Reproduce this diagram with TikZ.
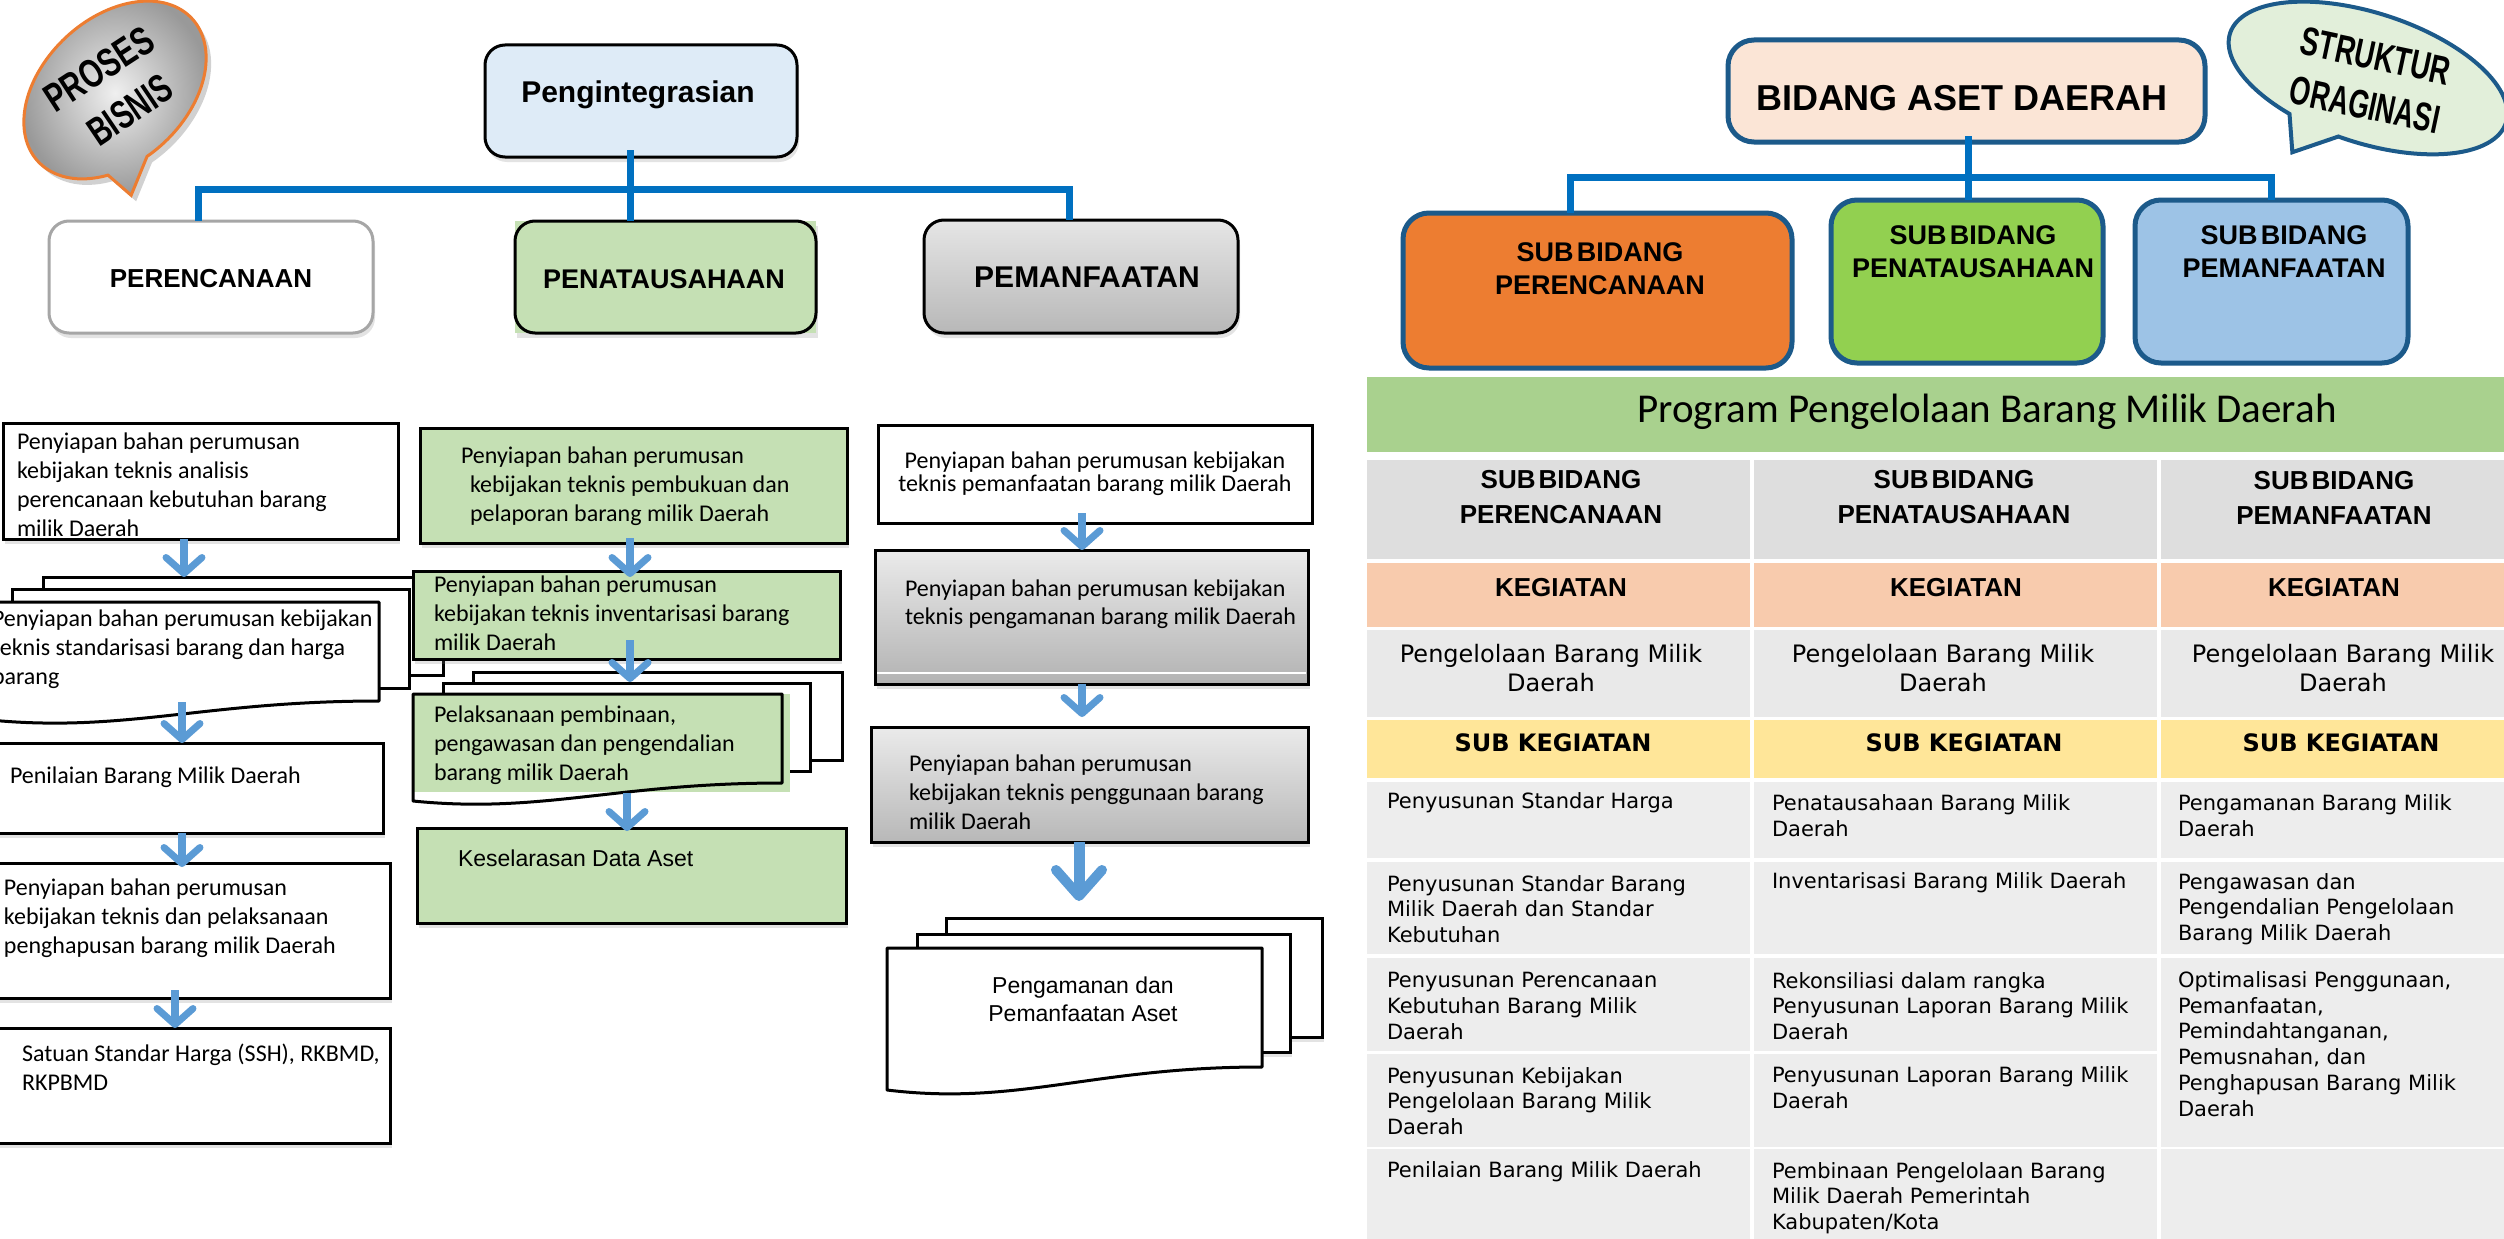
\documentclass[tikz,border=0pt]{standalone}
\usepackage{fontspec}
\setmainfont{Carlito}
\newfontfamily\arialf{Liberation Sans}
\newfontfamily\verdf{DejaVu Sans}
\usetikzlibrary{arrows.meta,shadows,calc}
\newcommand\fsz[2]{\fontsize{#1}{#2}\selectfont}

\definecolor{flowblue}{HTML}{5B9BD5}
\definecolor{busblue}{HTML}{0070C0}
\definecolor{frameblue}{HTML}{1C5A8A}
\definecolor{leafgreen}{HTML}{C5E0B4}
\definecolor{iceblue}{HTML}{DEEBF7}
\definecolor{orangefill}{HTML}{ED7D31}
\definecolor{limefill}{HTML}{92D050}
\definecolor{skyfill}{HTML}{9DC3E6}
\definecolor{peachtop}{HTML}{FBE5D6}
\definecolor{mintfill}{HTML}{E2EFDA}
\definecolor{bandgreen}{HTML}{A9D18E}
\definecolor{hdrgray}{HTML}{DEDEDE}
\definecolor{kegpeach}{HTML}{F8CBAD}
\definecolor{rowgray}{HTML}{E9E9E9}
\definecolor{subyellow}{HTML}{FFE699}
\definecolor{cellgray}{HTML}{EDEDED}
\definecolor{softgray}{HTML}{A6A6A6}
\definecolor{bubbleorange}{HTML}{ED7D31}

\begin{document}
\begin{tikzpicture}[x=1pt,y=-1pt,
  every node/.style={inner sep=0pt,outer sep=0pt},
  plainbox/.style={draw=black,line width=3pt,fill=white,anchor=north west},
  softshadow/.style={drop shadow={shadow xshift=2pt,shadow yshift=-5pt,opacity=0.22}},
  docline/.style={draw=black,line width=3pt,line join=round},
  flow/.style={draw=flowblue,line width=8pt,-{Straight Barb[length=16pt,width=36pt,line width=7pt,round]}},
  bigflow/.style={draw=flowblue,line width=11pt,-{Straight Barb[length=26pt,width=46pt,line width=10pt,round]}},
  bus/.style={draw=busblue,line width=7pt},
  orgbox/.style={draw=frameblue,line width=5pt,rounded corners=26pt,anchor=north west},
  cell/.style={anchor=north west},
  lefttext/.style={anchor=west,align=left},
  calib/.style={font=\fsz{24}{29}},
  titlefont/.style={font=\arialf\bfseries\fsz{#1}{#1}},
  bodycell/.style={anchor=west,align=left,font=\verdf\fsz{21}{25.7}},
]
\fill[white] (0,0) rectangle (2504,1239);
\useasboundingbox (0,0) rectangle (2504,1239);

% ---------------- speech bubble: PROSES BISNIS ----------------
\begin{scope}[shift={(120,96)},rotate=43]
  \fill[black,opacity=0.18] (127:105 and 72) arc[start angle=127,end angle=462,x radius=105,y radius=72] -- (-60,88) -- cycle;
\end{scope}
\begin{scope}[shift={(115,90)},rotate=43]
  \draw[bubbleorange,line width=3pt,inner color=black!6,outer color=black!40]
    (127:105 and 72) arc[start angle=127,end angle=462,x radius=105,y radius=72] -- (-60,88) -- cycle;
\end{scope}
\node[rotate=33,titlefont=40] (tproses) at (99,69) {\scalebox{0.73}[1]{PROSES}};
\node[rotate=34,titlefont=40] (tbisnis) at (130,110) {\scalebox{0.70}[1]{BISNIS}};

% ---------------- process hierarchy (left) ----------------
\node[plainbox,rounded corners=20pt,fill=iceblue,softshadow,minimum width=312pt,minimum height=112pt] (integ) at (485,45) {};
\node[titlefont=30] (tinteg) at (638,95) {Pengintegrasian};

\node[plainbox,draw=softgray,rounded corners=20pt,softshadow,minimum width=324pt,minimum height=112pt] (perenc) at (49,221) {};
\node[titlefont=26] (tperenc) at (211,279) {PERENCANAAN};

\fill[leafgreen,softshadow] (515,221) rectangle (816,333);
\node[plainbox,fill=none,rounded corners=20pt,minimum width=301pt,minimum height=112pt] (penata) at (515,221) {};
\node[titlefont=27] (tpenata) at (664,279) {PENATAUSAHAAN};

\node[plainbox,rounded corners=20pt,top color=black!10,bottom color=black!28,softshadow,minimum width=314pt,minimum height=113pt] (pemanf) at (924,220) {};
\node[titlefont=30] (tpemanf) at (1087,277) {PEMANFAATAN};

\coordinate (hubL) at (630,189);
\draw[bus] (630,150) -- (hubL |- penata.north);
\draw[bus] ([xshift=-13pt]perenc.north) |- (hubL) -| ([xshift=-12pt]pemanf.north);

% ---------------- organisation chart (right) ----------------
\coordinate (hubR) at (1968,177);
\node[orgbox,fill=peachtop,minimum width=477pt,minimum height=102pt] (bidang) at (1728,40) {};
\node[titlefont=36] (tbidang) at (1962,98) {BIDANG ASET DAERAH};

\node[orgbox,fill=orangefill,minimum width=389pt,minimum height=155pt] (sbperenc) at (1403,213) {};
\node[align=center,font=\arialf\bfseries\fsz{27}{33}] (tsbperenc) at (1600,268.5) {SUB\hspace{0.12em}BIDANG\\PERENCANAAN};
\node[orgbox,fill=limefill,minimum width=272pt,minimum height=163pt] (sbpenata) at (1831,200) {};
\node[align=center,font=\arialf\bfseries\fsz{27}{33}] (tsbpenata) at (1973,251.5) {SUB\hspace{0.12em}BIDANG\\PENATAUSAHAAN};
\node[orgbox,fill=skyfill,minimum width=273pt,minimum height=163pt] (sbpeman) at (2135,200) {};
\node[align=center,font=\arialf\bfseries\fsz{27}{33}] (tsbpeman) at (2284,251.5) {SUB\hspace{0.12em}BIDANG\\PEMANFAATAN};

\draw[bus] (hubR |- bidang.south) ++(0,-6) -- (hubR |- sbpenata.north);
\draw[bus] ([xshift=-27.5pt]sbperenc.north) |- (hubR) -| (sbpeman.north);

% ---------------- speech bubble: STRUKTUR ORAGINASI ----------------
\begin{scope}[shift={(2368,78)},rotate=-18]
  \filldraw[draw=frameblue,fill=mintfill,line width=4pt]
    (116:145 and 65) arc[start angle=116,end angle=454,x radius=145,y radius=65] -- (-49,94) -- cycle;
\end{scope}
\node[rotate=-12,titlefont=40] (tstruk) at (2376,56) {\scalebox{0.69}[1]{STRUKTUR}};
\node[rotate=-12,titlefont=40] (torag) at (2365,105) {\scalebox{0.67}[1]{ORAGINASI}};

% ---------------- column: perencanaan ----------------
\node[plainbox,softshadow,minimum width=395pt,minimum height=116pt] (bA) at (3,423) {};
\node[lefttext,calib] (tA) at (17,485) {Penyiapan bahan perumusan\\kebijakan teknis analisis\\perencanaan kebutuhan barang\\milik Daerah};

\node[plainbox,minimum width=400pt,minimum height=98pt] (bB3) at (43,577) {};
\node[plainbox,minimum width=397pt,minimum height=99pt] (bB2) at (12,589) {};
\draw[docline,fill=white] (-10,602) -- (379,602) -- (379,701) .. controls (204,701) and (126,733) .. (-10,720) -- cycle;
\coordinate (bBtip) at (182,702);
\node[lefttext,calib] (tB) at (-8,649) {Penyiapan bahan perumusan kebijakan\\teknis standarisasi barang dan harga\\barang};

\node[plainbox,softshadow,minimum width=388pt,minimum height=90pt] (bC) at (-5,743) {};
\node[lefttext,calib] (tC) at (10,777) {Penilaian Barang Milik Daerah};

\node[plainbox,softshadow,minimum width=395pt,minimum height=135pt] (bD) at (-5,863) {};
\node[lefttext,calib] (tD) at (4,918) {Penyiapan bahan perumusan\\kebijakan teknis dan pelaksanaan\\penghapusan barang milik Daerah};

\node[plainbox,softshadow,minimum width=395pt,minimum height=115pt] (bE) at (-5,1028) {};
\node[lefttext,calib] (tE) at (22,1067) {Satuan Standar Harga (SSH), RKBMD,\\RKPBMD};

% ---------------- column: penatausahaan ----------------
\node[plainbox,fill=leafgreen,softshadow,minimum width=427pt,minimum height=115pt] (bG1) at (420,428) {};
\node[lefttext,calib] (tG1) at (470,486) {\hspace*{-9pt}Penyiapan bahan perumusan\\kebijakan teknis pembukuan dan\\pelaporan barang milik Daerah};

\node[plainbox,fill=leafgreen,softshadow,minimum width=427pt,minimum height=88pt] (bG2) at (413,571) {};
\node[lefttext,calib] (tG2) at (434,613) {Penyiapan bahan perumusan\\kebijakan teknis inventarisasi barang\\milik Daerah};

\node[plainbox,minimum width=369pt,minimum height=88pt] (bG33) at (473,672) {};
\node[plainbox,minimum width=367pt,minimum height=88pt] (bG32) at (443,683) {};
\fill[leafgreen] (413,694) rectangle (790,792);
\draw[docline] (413,694) -- (782,694) -- (782,783) .. controls (616,783) and (542,814) .. (413,801) -- cycle;
\coordinate (bG3tip) at (627,793);
\node[lefttext,calib] (tG3) at (434,745) {Pelaksanaan pembinaan,\\pengawasan dan pengendalian\\barang milik Daerah};

\node[plainbox,fill=leafgreen,softshadow,minimum width=429pt,minimum height=95pt] (bG4) at (417,828) {};
\node[anchor=west,font=\arialf\fsz{23}{28}] (tG4) at (458,858) {Keselarasan Data Aset};

% ---------------- column: pemanfaatan ----------------
\node[plainbox,minimum width=434pt,minimum height=98pt] (bP1) at (878,425) {};
\node[align=center,font=\fsz{24}{23.5}] (tP1) at (1095,473.5) {Penyiapan bahan perumusan kebijakan\\teknis pemanfaatan barang milik Daerah};

\node[plainbox,top color=black!8,bottom color=black!30,softshadow,minimum width=433pt,minimum height=134pt] (bP2) at (875,550) {};
\draw[white,line width=2pt] (877,673) -- (1306,673);
\node[lefttext,font=\fsz{24}{28}] (tP2) at (905,604) {Penyiapan bahan perumusan kebijakan\\teknis pengamanan barang milik Daerah};

\node[plainbox,top color=black!8,bottom color=black!28,softshadow,minimum width=437pt,minimum height=115pt] (bP3) at (871,727) {};
\node[lefttext,calib] (tP3) at (909,792) {Penyiapan bahan perumusan\\kebijakan teknis penggunaan barang\\milik Daerah};

\node[plainbox,softshadow,minimum width=376pt,minimum height=119pt] (bP43) at (946,918) {};
\node[plainbox,softshadow,minimum width=373pt,minimum height=118pt] (bP42) at (917,934) {};
\draw[docline,fill=white] (887,948) -- (1262,948) -- (1262,1067) .. controls (1093,1067) and (1018,1106) .. (887,1090) -- cycle;
\node[align=center,font=\arialf\fsz{23}{28}] (tP4) at (1083,999) {Pengamanan dan\\Pemanfaatan Aset};

% ---------------- flow arrows ----------------
\coordinate (a1s) at ([xshift=-16.5pt]bA.south);
\draw[flow] (a1s) -- (a1s |- bB3.north);
\draw[flow] (bBtip) -- (bBtip |- bC.north);
\coordinate (a3s) at ([xshift=-7pt]bC.south);
\draw[flow] (a3s) -- ($(a3s |- bD.north)+(0,4)$);
\coordinate (a4s) at ([xshift=-17.5pt,yshift=8pt]bD.south);
\draw[flow] (a4s) -- (a4s |- bE.north);

\coordinate (g1s) at ([xshift=-3.5pt,yshift=5pt]bG1.south);
\draw[flow] (g1s) -- ($(g1s |- bG2.north)+(0,6)$);
\coordinate (g2s) at ([xshift=3.5pt,yshift=19pt]bG2.south);
\draw[flow] (g2s) -- ($(g2s |- bG33.north)+(0,10)$);
\draw[flow] (bG3tip) -- ($(bG3tip |- bG4.north)+(0,3)$);

\coordinate (p1s) at ([xshift=-13pt,yshift=10pt]bP1.south);
\draw[flow] (p1s) -- (p1s |- bP2.north);
\coordinate (p2s) at ([xshift=-9.5pt]bP2.south);
\draw[flow] (p2s) -- ($(p2s |- bP3.north)+(0,-10)$);
\coordinate (p3s) at ([xshift=-10.5pt]bP3.south);
\draw[bigflow] (p3s) -- ($(p3s |- bP43.north)+(0,-17)$);

% ---------------- programme table ----------------
\node[cell,fill=bandgreen,minimum width=1137pt,minimum height=75pt] (band) at (1367,377) {};
\node[font=\fsz{41}{48}] (tband) at (1987,412) {Program Pengelolaan Barang Milik Daerah};

\foreach \r/\y/\h/\c in {1/460/99/hdrgray, 2/563/64/kegpeach, 3/630/87/rowgray, 4/720/58/subyellow, 5/782/76/cellgray, 6/862/92/cellgray, 7/958/93/cellgray, 8/1054/93/cellgray, 9/1149/90/cellgray}{
  \node[cell,fill=\c,minimum width=383pt,minimum height=\h pt] (c\r a) at (1367,\y) {};
  \node[cell,fill=\c,minimum width=403pt,minimum height=\h pt] (c\r b) at (1754,\y) {};
}
\foreach \r/\y/\h/\c in {1/460/99/hdrgray, 2/563/64/kegpeach, 3/630/87/rowgray, 4/720/58/subyellow, 5/782/76/cellgray, 6/862/92/cellgray, 9/1149/90/cellgray}{
  \node[cell,fill=\c,minimum width=343pt,minimum height=\h pt] (c\r c) at (2161,\y) {};
}
\node[cell,fill=cellgray,minimum width=343pt,minimum height=189pt] (c78c) at (2161,958) {};

% header row
\node[align=center,font=\arialf\bfseries\fsz{26}{35}] (h1) at (1561,497.5) {SUB\hspace{0.12em}BIDANG\\PERENCANAAN};
\node[align=center,font=\arialf\bfseries\fsz{26}{35}] (h2) at (1954,497.5) {SUB\hspace{0.12em}BIDANG\\PENATAUSAHAAN};
\node[align=center,font=\arialf\bfseries\fsz{26}{35}] (h3) at (2334,497.5) {SUB\hspace{0.12em}BIDANG\\PEMANFAATAN};
% kegiatan
\node[titlefont=26] (k1) at (1561,588) {KEGIATAN};
\node[titlefont=26] (k2) at (1956,588) {KEGIATAN};
\node[titlefont=26] (k3) at (2334,588) {KEGIATAN};
\node[align=center,font=\verdf\fsz{24}{29}] (q1) at (1551,668) {Pengelolaan Barang Milik\\Daerah};
\node[align=center,font=\verdf\fsz{24}{29}] (q2) at (1943,668) {Pengelolaan Barang Milik\\Daerah};
\node[align=center,font=\verdf\fsz{24}{29}] (q3) at (2343,668) {Pengelolaan Barang Milik\\Daerah};
% sub kegiatan
\node[font=\verdf\bfseries\fsz{24}{29}] (s1) at (1553,743) {SUB KEGIATAN};
\node[font=\verdf\bfseries\fsz{24}{29}] (s2) at (1964,743) {SUB KEGIATAN};
\node[font=\verdf\bfseries\fsz{24}{29}] (s3) at (2341,743) {SUB KEGIATAN};

% body cells
\node[bodycell] (b5a) at (1387,803) {Penyusunan Standar Harga};
\node[bodycell] (b5b) at (1772,816) {Penatausahaan Barang Milik\\Daerah};
\node[bodycell] (b5c) at (2178,816) {Pengamanan Barang Milik\\Daerah};

\node[bodycell] (b6a) at (1387,909) {Penyusunan Standar Barang\\Milik Daerah dan Standar\\Kebutuhan};
\node[bodycell] (b6b) at (1772,883) {Inventarisasi Barang Milik Daerah};
\node[bodycell] (b6c) at (2178,909) {Pengawasan dan\\Pengendalian Pengelolaan\\Barang Milik Daerah};

\node[bodycell] (b7a) at (1387,1006) {Penyusunan Perencanaan\\Kebutuhan Barang Milik\\Daerah};
\node[bodycell] (b7b) at (1772,1006) {Rekonsiliasi dalam rangka\\Penyusunan Laporan Barang Milik\\Daerah};
\node[bodycell] (b7c) at (2178,1044) {Optimalisasi Penggunaan,\\Pemanfaatan,\\Pemindahtanganan,\\Pemusnahan, dan\\Penghapusan Barang Milik\\Daerah};

\node[bodycell] (b8a) at (1387,1101) {Penyusunan Kebijakan\\Pengelolaan Barang Milik\\Daerah};
\node[bodycell] (b8b) at (1772,1088) {Penyusunan Laporan Barang Milik\\Daerah};

\node[bodycell] (b9a) at (1387,1172) {Penilaian Barang Milik Daerah};
\node[bodycell] (b9b) at (1772,1198) {Pembinaan Pengelolaan Barang\\Milik Daerah Pemerintah\\Kabupaten/Kota};
\end{tikzpicture}
\end{document}
